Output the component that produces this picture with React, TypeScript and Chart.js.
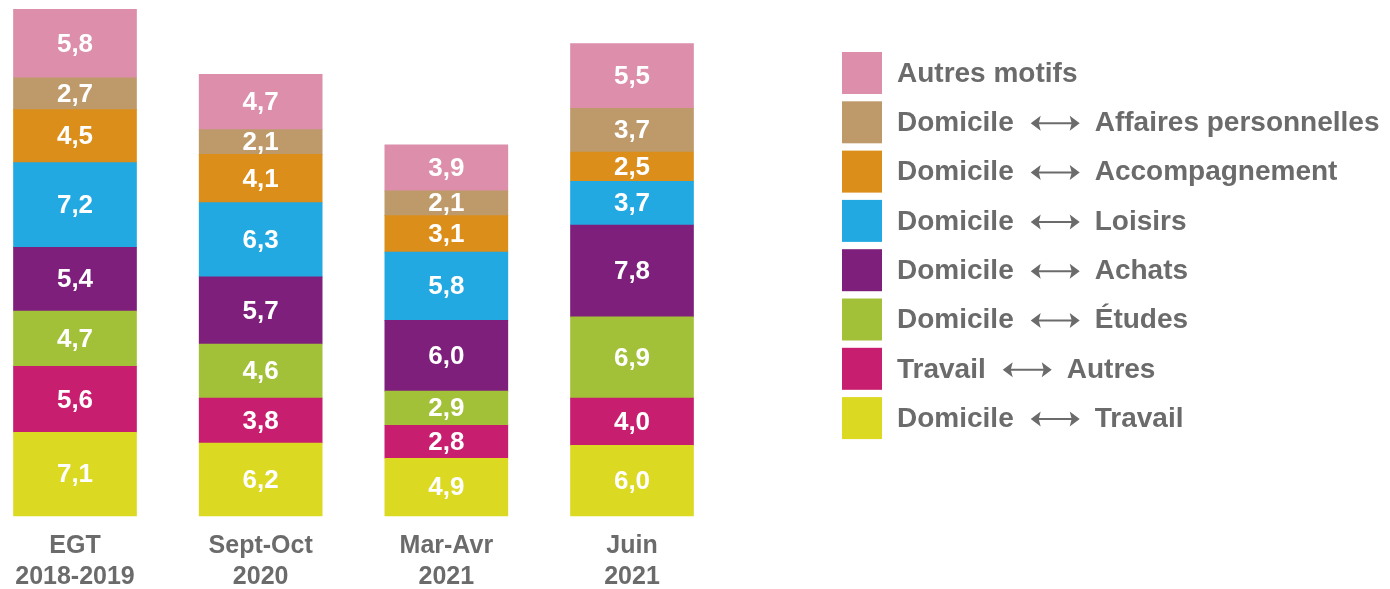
import React, { useEffect, useRef } from "react";
import { Chart, registerables } from "chart.js";

Chart.register(...registerables);

const categories: string[][] = [
  ["EGT", "2018-2019"],
  ["Sept-Oct", "2020"],
  ["Mar-Avr", "2021"],
  ["Juin", "2021"],
];

// series, bottom to top
const domicileTravail = [7.1, 6.2, 4.9, 6.0];
const travailAutres = [5.6, 3.8, 2.8, 4.0];
const domicileEtudes = [4.7, 4.6, 2.9, 6.9];
const domicileAchats = [5.4, 5.7, 6.0, 7.8];
const domicileLoisirs = [7.2, 6.3, 5.8, 3.7];
const domicileAccompagnement = [4.5, 4.1, 3.1, 2.5];
const domicileAffaires = [2.7, 2.1, 2.1, 3.7];
const autresMotifs = [5.8, 4.7, 3.9, 5.5];

const seriesLeft = ["Domicile", "Travail", "Domicile", "Domicile", "Domicile", "Domicile", "Domicile", "Autres motifs"];
const seriesRight = ["Travail", "Autres", "Études", "Achats", "Loisirs", "Accompagnement", "Affaires personnelles", ""];
const seriesValues = [
  domicileTravail,
  travailAutres,
  domicileEtudes,
  domicileAchats,
  domicileLoisirs,
  domicileAccompagnement,
  domicileAffaires,
  autresMotifs,
];
const seriesColors = [
  "#DCD923",
  "#C81E6F",
  "#A3C138",
  "#7E1F7B",
  "#23A9E1",
  "#DC8E1B",
  "#BE9A6A",
  "#DC8EAA",
];

const FONT = "'Liberation Sans', Arial, sans-serif";
const GRAY = "#6b6b6b";

const valueLabels = {
  id: "valueLabels",
  afterDatasetsDraw(chart: any) {
    const ctx = chart.ctx;
    ctx.save();
    ctx.fillStyle = "#ffffff";
    ctx.font = `bold 26px ${FONT}`;
    ctx.textAlign = "center";
    ctx.textBaseline = "middle";
    chart.data.datasets.forEach((ds: any, i: number) => {
      const meta = chart.getDatasetMeta(i);
      meta.data.forEach((bar: any, j: number) => {
        const v = ds.data[j] as number;
        const y = (bar.y + bar.base) / 2;
        ctx.fillText(v.toFixed(1).replace(".", ","), bar.x, y + 1);
      });
    });
    ctx.restore();
  },
};

function drawArrow(ctx: CanvasRenderingContext2D, x1: number, x2: number, y: number) {
  ctx.save();
  ctx.strokeStyle = GRAY;
  ctx.fillStyle = GRAY;
  ctx.lineWidth = 2;
  ctx.beginPath();
  ctx.moveTo(x1 + 6, y);
  ctx.lineTo(x2 - 6, y);
  ctx.stroke();
  const hw = 7.5;
  const hl = 10;
  const notch = 2;
  ctx.beginPath();
  ctx.moveTo(x1, y);
  ctx.lineTo(x1 + hl, y - hw);
  ctx.lineTo(x1 + hl - notch, y);
  ctx.lineTo(x1 + hl, y + hw);
  ctx.closePath();
  ctx.fill();
  ctx.beginPath();
  ctx.moveTo(x2, y);
  ctx.lineTo(x2 - hl, y - hw);
  ctx.lineTo(x2 - hl + notch, y);
  ctx.lineTo(x2 - hl, y + hw);
  ctx.closePath();
  ctx.fill();
  ctx.restore();
}

const customLegend = {
  id: "customLegend",
  afterDraw(chart: any) {
    const ctx = chart.ctx as CanvasRenderingContext2D;
    ctx.save();
    const n = chart.data.datasets.length;
    const x0 = 842;
    const y0 = 73;
    const pitch = 49.3;
    ctx.font = `bold 28px ${FONT}`;
    ctx.textBaseline = "middle";
    ctx.textAlign = "left";
    for (let k = 0; k < n; k++) {
      const i = n - 1 - k;
      const ds = chart.data.datasets[i];
      const cy = y0 + k * pitch;
      ctx.fillStyle = ds.backgroundColor;
      ctx.fillRect(x0, cy - 21, 40, 42);
      ctx.fillStyle = GRAY;
      const left = seriesLeft[i];
      const right = seriesRight[i];
      const tx = 897;
      ctx.fillText(left, tx, cy + 1);
      if (right) {
        const w = ctx.measureText(left).width;
        const ax1 = tx + w + 17;
        const ax2 = ax1 + 49;
        drawArrow(ctx, ax1, ax2, cy + 1);
        ctx.fillStyle = GRAY;
        ctx.fillText(right, ax2 + 15, cy + 1);
      }
    }
    ctx.restore();
  },
};

export default function App() {
  const ref = useRef<HTMLCanvasElement>(null);
  useEffect(() => {
    if (!ref.current) return;
    const chart = new Chart(ref.current, {
      type: "bar",
      data: {
        labels: categories,
        datasets: seriesValues.map((vals, i) => ({
          label: seriesRight[i] ? `${seriesLeft[i]} ↔ ${seriesRight[i]}` : seriesLeft[i],
          data: vals,
          backgroundColor: seriesColors[i],
          borderWidth: 0,
          barThickness: 123,
          clip: false as any,
        })),
      },
      options: {
        animation: false,
        responsive: false,
        devicePixelRatio: 1,
        layout: { padding: { left: 75, right: 758, top: 0, bottom: 0 } },
        plugins: {
          legend: { display: false },
          tooltip: { enabled: false },
        },
        scales: {
          x: {
            stacked: true,
            offset: false,
            grid: { display: false, drawTicks: false },
            border: { display: false },
            afterFit: (scale: any) => {
              scale.height = 73;
            },
            ticks: {
              color: GRAY,
              font: { family: FONT, size: 25, weight: "bold", lineHeight: 1.25 },
              padding: 14,
              maxRotation: 0,
              autoSkip: false,
            },
          },
          y: {
            stacked: true,
            display: false,
            min: 0,
            max: 43.8,
          },
        },
      },
      plugins: [valueLabels, customLegend],
    });
    return () => chart.destroy();
  }, []);
  return (
    <div style={{ position: "absolute", left: 0, top: 0, width: 1390, height: 589, background: "#fff" }}>
      <canvas ref={ref} width={1390} height={589} style={{ width: 1390, height: 589 }} />
    </div>
  );
}
